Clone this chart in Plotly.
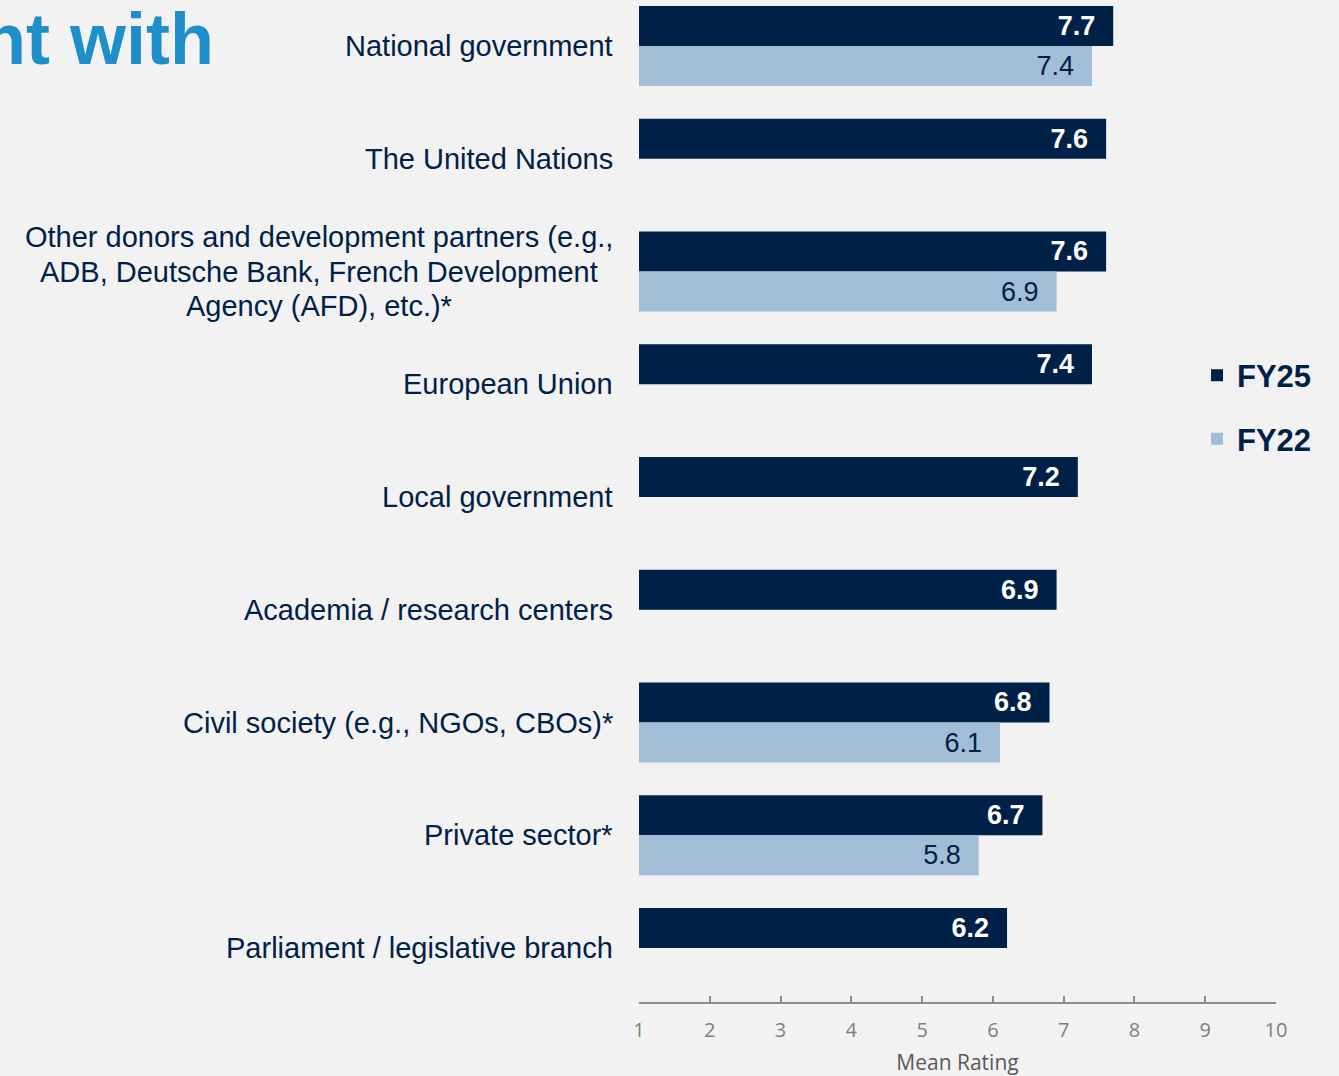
import plotly.graph_objects as go

categories = [
    "National government",
    "The United Nations",
    "Other donors and development partners (e.g.,<br>ADB, Deutsche Bank, French Development<br>Agency (AFD), etc.)*",
    "European Union",
    "Local government",
    "Academia / research centers",
    "Civil society (e.g., NGOs, CBOs)*",
    "Private sector*",
    "Parliament / legislative branch",
]
fy25 = [7.7, 7.6, 7.6, 7.4, 7.2, 6.9, 6.8, 6.7, 6.2]
fy22 = [7.4, None, 6.9, None, None, None, 6.1, 5.8, None]
x_ticks = [1, 2, 3, 4, 5, 6, 7, 8, 9, 10]

NAVY = "#002147"
LIGHT = "#A2BDD6"
BG = "#F2F2F2"
FONT = "Arial, Liberation Sans, sans-serif"
cat_ids = list(range(len(categories)))

fig = go.Figure()
fig.add_trace(go.Bar(
    name="FY25", y=cat_ids, x=[v - 1 for v in fy25], base=1, orientation="h",
    marker=dict(color=NAVY, line=dict(width=0)),
    text=[f"{v:.1f}\u00a0\u00a0" for v in fy25], textposition="inside",
    insidetextanchor="end",
    textfont=dict(family=FONT, size=27, color="white", weight="bold"),
    legendgroup="a", hoverinfo="skip",
))
fig.add_trace(go.Bar(
    name="FY22", y=cat_ids, x=[(v - 1) if v is not None else None for v in fy22], base=1,
    orientation="h",
    marker=dict(color=LIGHT, line=dict(width=0)),
    text=[(f"{v:.1f}\u00a0\u00a0" if v is not None else "") for v in fy22],
    textposition="inside", insidetextanchor="end",
    textfont=dict(family=FONT, size=27, color=NAVY),
    legendgroup="b", hoverinfo="skip",
))

LINE_STEP = 0.302   # line spacing of wrapped labels, in category units
LABEL_GAP = 24      # px between label right edge and plot
BLOCK_HALF = 296    # half-width of the wrapped label block, px
annotations = []
for i, c in enumerate(categories):
    lines = c.split("<br>")
    n = len(lines)
    for k, ln in enumerate(lines):
        if n == 1:
            pos = dict(xanchor="right", xshift=-LABEL_GAP)
        else:
            pos = dict(xanchor="center", xshift=-LABEL_GAP - BLOCK_HALF)
        annotations.append(dict(
            text=ln, xref="paper", x=0, **pos,
            yref="y", y=i + (k - (n - 1) / 2) * LINE_STEP, yanchor="middle", showarrow=False,
            font=dict(family=FONT, size=29, color=NAVY),
        ))
annotations.append(dict(
    text="nt with", xref="paper", x=0, xshift=-423, xanchor="right",
    yref="paper", y=0.961, yanchor="middle", showarrow=False,
    font=dict(family=FONT, size=72, color="#1F8FC9", weight="bold"),
))

fig.update_layout(
    width=1339, height=1076,
    paper_bgcolor=BG, plot_bgcolor=BG,
    margin=dict(l=639, r=63, t=0, b=74),
    barmode="group", bargap=0.29, bargroupgap=0,
    showlegend=True,
    legend=dict(x=0.876, y=0.652, xanchor="left", yanchor="top",
                font=dict(family=FONT, size=31, color=NAVY, weight="bold"),
                tracegroupgap=20, bgcolor="rgba(0,0,0,0)"),
    annotations=annotations,
    xaxis=dict(range=[1, 10], tickvals=x_ticks, showgrid=False, zeroline=False,
               showline=True, linecolor="#8C8C8C", linewidth=2,
               ticks="inside", ticklen=6, tickwidth=2, tickcolor="#8C8C8C",
               ticklabelstandoff=9,
               tickfont=dict(family="Open Sans, sans-serif", size=20, color="#7F7F7F"),
               title=dict(text="Mean Rating", standoff=15,
                          font=dict(family="Open Sans, sans-serif", size=21, color="#595959")),
               fixedrange=True),
    yaxis=dict(range=[8.479, -0.408], showticklabels=False, showgrid=False,
               zeroline=False, showline=False, fixedrange=True),
)

fig.write_html("out.html", config={"displayModeBar": False},
               post_script="document.body.style.margin='0';document.body.style.background='#F2F2F2';")
